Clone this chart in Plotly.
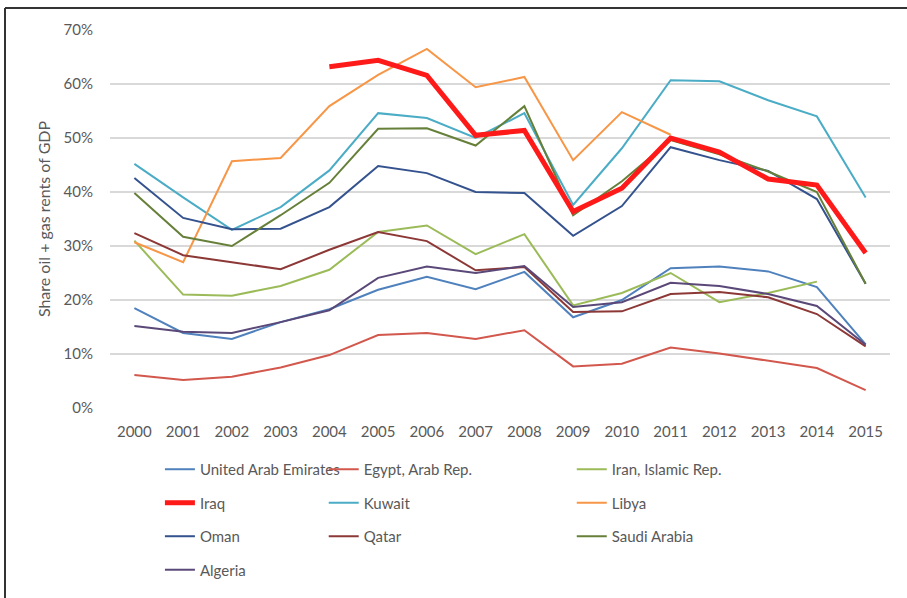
import plotly.graph_objects as go

years = list(range(2000, 2016))

uae = [18.5, 13.9, 12.8, 15.9, 18.3, 21.9, 24.3, 22.0, 25.2, 16.8, 20.0, 25.9, 26.2, 25.3, 22.4, 11.8]
egypt = [6.1, 5.2, 5.8, 7.5, 9.8, 13.5, 13.9, 12.8, 14.4, 7.7, 8.2, 11.2, 10.1, 8.8, 7.4, 3.3]
iran = [31.0, 21.0, 20.8, 22.6, 25.6, 32.6, 33.8, 28.5, 32.2, 19.0, 21.3, 25.0, 19.6, 21.3, 23.4, None]
iraq = [None, None, None, None, 63.2, 64.4, 61.6, 50.5, 51.4, 36.4, 40.7, 50.0, 47.4, 42.4, 41.3, 28.7]
kuwait = [45.2, 39.0, 33.0, 37.2, 44.0, 54.6, 53.7, 50.0, 54.6, 37.6, 48.1, 60.7, 60.5, 57.0, 54.0, 39.0]
libya = [30.7, 27.0, 45.7, 46.3, 55.9, 61.7, 66.5, 59.4, 61.3, 45.9, 54.8, 50.6, None, None, None, None]
oman = [42.6, 35.2, 33.1, 33.2, 37.2, 44.8, 43.5, 40.0, 39.8, 31.9, 37.4, 48.3, 45.9, 43.9, 38.7, 23.0]
qatar = [32.4, 28.3, 27.0, 25.7, 29.3, 32.6, 30.9, 25.5, 26.1, 17.8, 17.9, 21.1, 21.5, 20.5, 17.4, 11.4]
saudi = [39.8, 31.7, 30.0, 35.7, 41.7, 51.7, 51.8, 48.6, 55.9, 35.7, 42.0, 49.6, 47.0, 43.8, 40.0, 23.0]
algeria = [15.2, 14.1, 13.9, 15.9, 18.1, 24.1, 26.2, 25.0, 26.3, 18.7, 19.6, 23.2, 22.6, 21.1, 18.9, 11.7]

# name, values, colour, width, legend column
series = [
    ("United Arab Emirates", uae, "#4F81BD", 2, "legend"),
    ("Egypt, Arab Rep.", egypt, "#D2574C", 2, "legend2"),
    ("Iran, Islamic Rep.", iran, "#9BBB59", 2, "legend3"),
    ("Iraq", iraq, "#FF1A1A", 5, "legend"),
    ("Kuwait", kuwait, "#4BACC6", 2, "legend2"),
    ("Libya", libya, "#F79646", 2, "legend3"),
    ("Oman", oman, "#34528E", 2, "legend"),
    ("Qatar", qatar, "#8C3836", 2, "legend2"),
    ("Saudi Arabia", saudi, "#66803A", 2, "legend3"),
    ("Algeria", algeria, "#5A4878", 2, "legend"),
]

font = "Lato, 'Open Sans', sans-serif"
grey = "#595959"

fig = go.Figure()
# Iraq last so the thick red line sits on top; legendrank keeps the legend order
names = [s[0] for s in series]
order = [s for s in series if s[0] != "Iraq"] + [s for s in series if s[0] == "Iraq"]
for name, vals, color, width, leg in order:
    fig.add_trace(go.Scatter(
        x=years,
        y=[v / 100 if v is not None else None for v in vals],
        name=name,
        mode="lines",
        line=dict(color=color, width=width),
        legend=leg,
        legendgroup=name,
        legendrank=names.index(name) + 1,
    ))

leg_common = dict(
    orientation="v", yanchor="top", xanchor="left",
    font=dict(family=font, size=15, color=grey),
    bgcolor="rgba(0,0,0,0)", tracegroupgap=11,
)
fig.update_layout(
    width=907, height=598,
    paper_bgcolor="white", plot_bgcolor="white",
    margin=dict(l=110, r=17, t=30, b=190, autoexpand=False),
    font=dict(family=font, color=grey),
    xaxis=dict(
        range=[1999.5, 2015.5], tickmode="array", tickvals=years,
        showgrid=False, zeroline=False, showline=False,
        tickfont=dict(size=15, color=grey), ticklabelstandoff=13,
    ),
    yaxis=dict(
        range=[0, 0.7], dtick=0.1, tickformat=".0%",
        showgrid=True, gridcolor="#D9D9D9", gridwidth=1.5, zeroline=False,
        tickfont=dict(size=15, color=grey), ticklabelstandoff=16,
        title=dict(text="Share oil + gas rents of GDP", font=dict(size=16, color=grey), standoff=8),
    ),
    legend=dict(x=0.064, y=-0.119, **leg_common),
    legend2=dict(x=0.274, y=-0.119, **leg_common),
    legend3=dict(x=0.592, y=-0.119, **leg_common),
)

# frame of the original figure (dark top and left edges)
fig.add_shape(type="line", xref="paper", yref="paper",
              x0=(5 - 110) / 780, x1=(907 - 110) / 780,
              y0=(408 - 8) / 378, y1=(408 - 8) / 378,
              line=dict(color="#333333", width=2))
fig.add_shape(type="line", xref="paper", yref="paper",
              x0=(5 - 110) / 780, x1=(5 - 110) / 780,
              y0=(408 - 8) / 378, y1=(408 - 598) / 378,
              line=dict(color="#333333", width=2))

fig.write_html("out.html", config={"displayModeBar": False},
               post_script="document.body.style.margin='0';")
